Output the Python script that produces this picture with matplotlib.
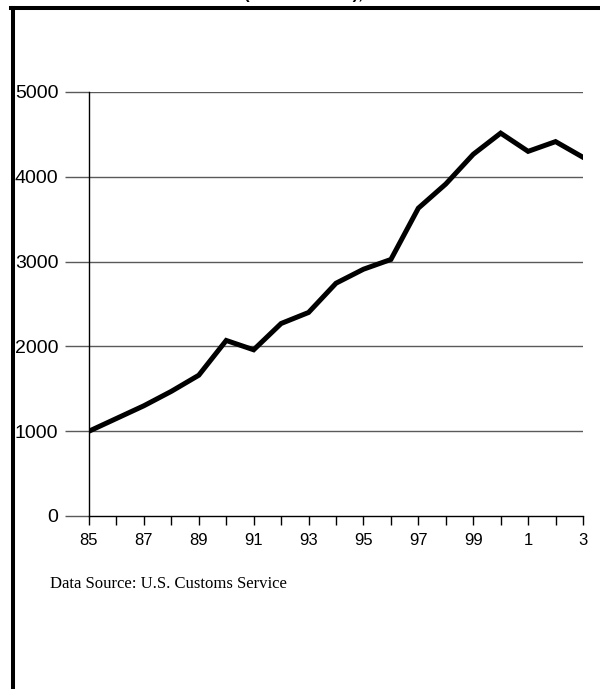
import matplotlib
matplotlib.use("Agg")
import matplotlib.pyplot as plt
from matplotlib.lines import Line2D

years = list(range(1985, 2004))
values = [1000, 1150, 1300, 1470, 1660, 2070, 1960, 2270, 2400, 2745,
          2910, 3025, 3630, 3915, 4265, 4515, 4300, 4415, 4230]
year_labels = ["85", "", "87", "", "89", "", "91", "", "93", "", "95", "",
               "97", "", "99", "", "1", "", "3"]
y_ticks = [0, 1000, 2000, 3000, 4000, 5000]

plt.rcParams['font.family'] = ['Liberation Sans', 'DejaVu Sans']

fig = plt.figure(figsize=(6, 6.89), dpi=100)
ax = fig.add_axes([89/600, 173/689, (583-89)/600, (516-92)/689])

ax.plot(years, values, color="black", lw=3.6, solid_joinstyle="miter", zorder=3)

ax.set_xlim(1985, 2003)
ax.set_ylim(0, 5000)
ax.set_yticks(y_ticks)
ax.set_yticklabels([str(v) for v in y_ticks], fontsize=14)
ax.set_xticks(years)
ax.set_xticklabels(year_labels, fontsize=12)

for v in y_ticks[1:]:
    ax.axhline(v, color="#5a5a5a", lw=1, zorder=1)

for s in ["top", "right"]:
    ax.spines[s].set_visible(False)
ax.spines["left"].set_linewidth(1)
ax.spines["bottom"].set_linewidth(1)
ax.tick_params(axis="y", length=17, width=1, color="#5a5a5a", pad=5)
ax.tick_params(axis="x", length=6.5, width=1, pad=6)

# title sits mostly above the page, only its lower edge shows
fig.text(0.505, 1 + 1/689, "(in thousands),", ha="center", va="baseline",
         fontsize=12, fontweight="bold")

fig.text(50/600, 1 - 588/689, "Data Source: U.S. Customs Service",
         family="Liberation Serif", fontsize=12, va="baseline")

# outer frame (left and top edges)
fig.add_artist(Line2D([12.5/600, 12.5/600], [0, 1 - 7.5/689],
                      transform=fig.transFigure, color="black", lw=2.9))
fig.add_artist(Line2D([11/600, 1], [1 - 7.5/689, 1 - 7.5/689],
                      transform=fig.transFigure, color="black", lw=2.9))

fig.savefig("out.png", dpi=100)
